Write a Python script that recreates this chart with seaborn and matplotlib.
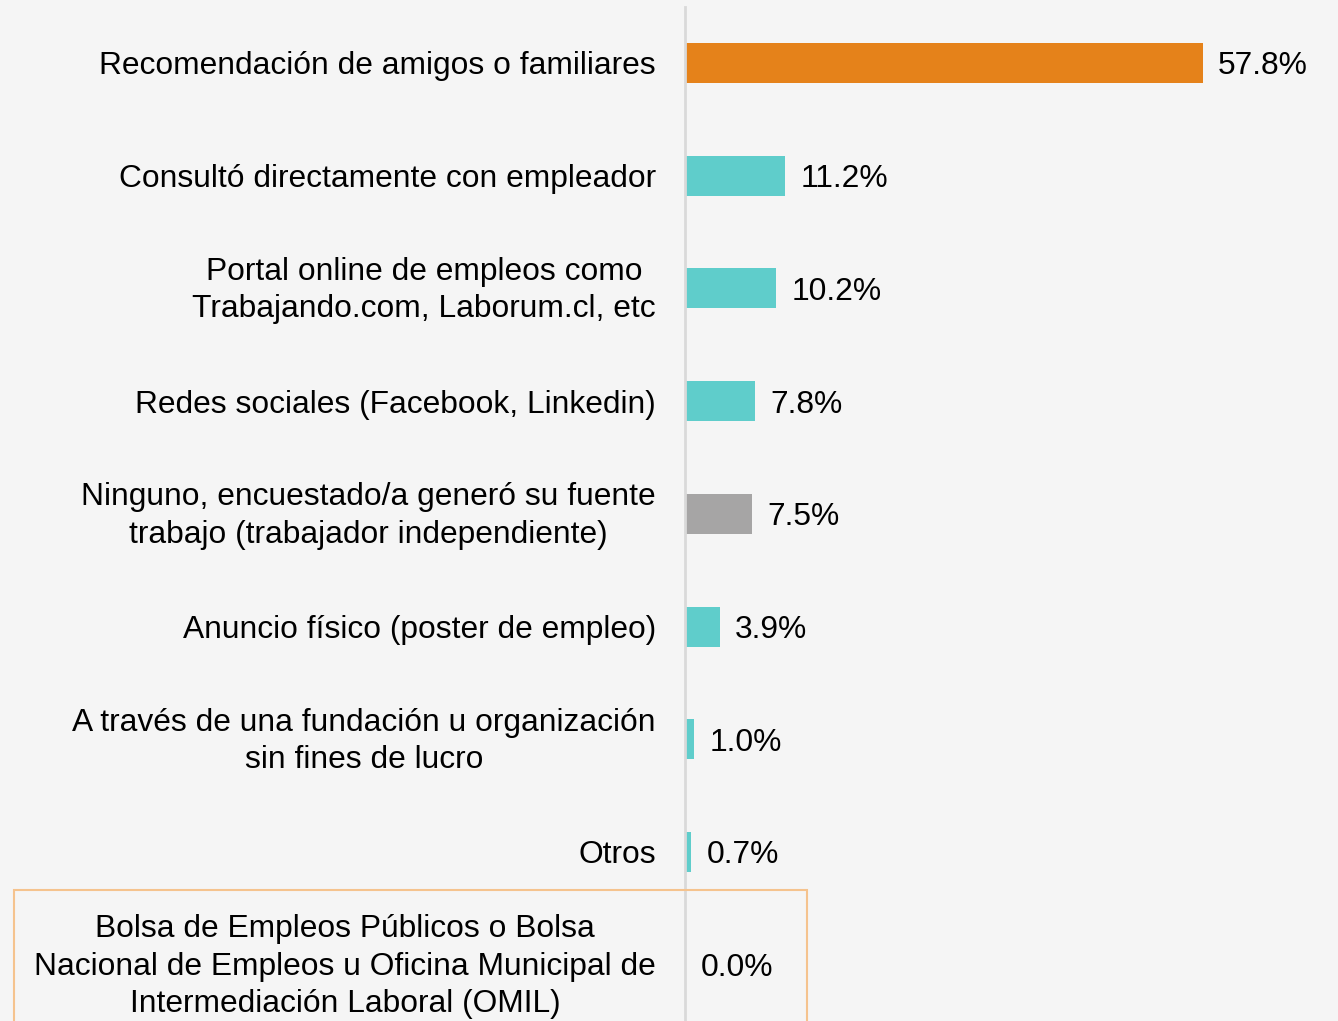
import matplotlib
matplotlib.use('Agg')
import matplotlib.pyplot as plt
import matplotlib.patches as mpatches
import matplotlib.transforms as mtrans
import seaborn as sns
import pandas as pd

# Data
categorias = [
    'Recomendación de amigos o familiares',
    'Consultó directamente con empleador',
    'Portal online de empleos como\nTrabajando.com, Laborum.cl, etc',
    'Redes sociales (Facebook, Linkedin)',
    'Ninguno, encuestado/a generó su fuente\ntrabajo (trabajador independiente)',
    'Anuncio físico (poster de empleo)',
    'A través de una fundación u organización\nsin fines de lucro',
    'Otros',
    'Bolsa de Empleos Públicos o Bolsa\nNacional de Empleos u Oficina Municipal de\nIntermediación Laboral (OMIL)',
]
porcentajes = [57.8, 11.2, 10.2, 7.8, 7.5, 3.9, 1.0, 0.7, 0.0]
colores = ['#E5821A', '#5FCDCB', '#5FCDCB', '#5FCDCB', '#A6A5A5',
           '#5FCDCB', '#5FCDCB', '#5FCDCB', '#5FCDCB']

bg = '#F5F5F5'
fs = 22.9
sns.set_theme(style='white')
plt.rcParams['font.family'] = ['Liberation Sans', 'DejaVu Sans']

df = pd.DataFrame({'categoria': categorias, 'pct': porcentajes})

fig = plt.figure(figsize=(13.38, 10.21), dpi=100, facecolor=bg)
ax = fig.add_axes([685 / 1338, 0.0, 1 - 685 / 1338, 1 - 6.6 / 1021])
ax.set_facecolor(bg)

sns.barplot(data=df, y='categoria', x='pct', hue='categoria',
            palette=colores, orient='h', width=0.355, legend=False,
            saturation=1, linewidth=0, ax=ax)

for c in ax.containers:
    for t in ax.bar_label(c, fmt='%.1f%%', padding=11, fontsize=fs, color='black'):
        t.set_va('center_baseline')

ax.set_xlim(0, 72.9)
ax.set_ylim(8.5, -0.5)
ax.set_xlabel('')
ax.set_ylabel('')
ax.set_xticks([])
ax.tick_params(axis='y', length=0, pad=21, labelsize=fs, labelcolor='black')
for lbl in ax.get_yticklabels():
    lbl.set_multialignment('center')
    lbl.set_linespacing(1.32)
    # nudge wrapped labels up a little
    if '\n' in lbl.get_text():
        lbl.set_transform(lbl.get_transform() +
                          mtrans.ScaledTranslation(0, 0.05, fig.dpi_scale_trans))

for s in ['top', 'right', 'bottom']:
    ax.spines[s].set_visible(False)
ax.spines['left'].set_color('#D9D9D9')
ax.spines['left'].set_linewidth(2)

# highlight box around the last category
box = mpatches.Rectangle((14 / 1338, 0 - 0.01), (807 - 14) / 1338, (1021 - 890) / 1021 + 0.01,
                         transform=fig.transFigure, fill=False,
                         edgecolor='#F5C38E', linewidth=1.5, clip_on=False)
fig.patches.append(box)

fig.savefig('out.png', dpi=100, facecolor=bg)
